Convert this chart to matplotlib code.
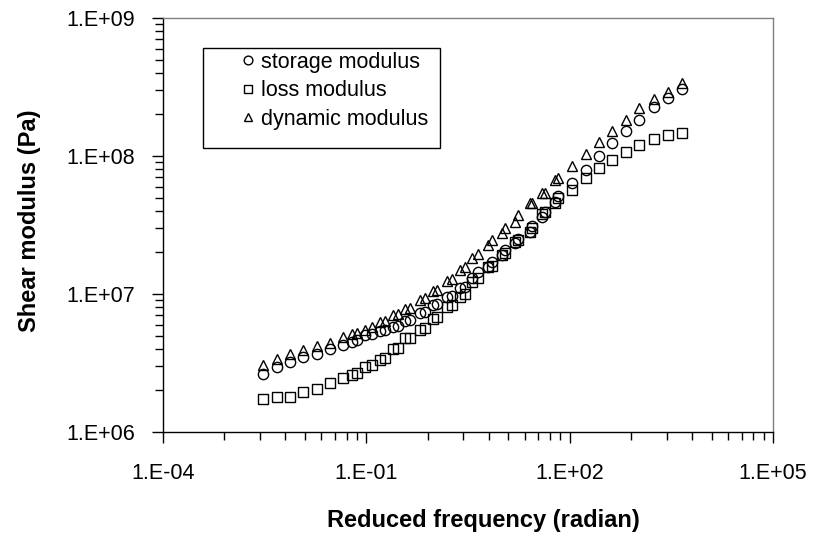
import numpy as np
import matplotlib
matplotlib.use("Agg")
import matplotlib.pyplot as plt
from matplotlib.ticker import FixedLocator, FuncFormatter, NullFormatter
from matplotlib.patches import Rectangle

plt.rcParams['font.family'] = ['Liberation Sans', 'DejaVu Sans']

# reduced frequency (rad) - main set and the overlapping set
freq = [0.00302, 0.00475, 0.00746, 0.0117, 0.0185, 0.0290, 0.0456, 0.0719,
        0.120, 0.188, 0.295, 0.440, 0.731, 1.11, 1.81, 2.85, 4.47, 7.05, 11.1,
        17.4, 27.4, 43.1, 67.6, 110, 173, 272, 424, 674, 1060, 1760, 2840, 4470,
        0.0607, 0.0953, 0.159, 0.249, 0.371, 0.618, 0.970, 1.53, 2.40, 3.57,
        6.28, 9.91, 15.6, 25.9, 38.5, 60.5]

storage = [2.62e6, 2.97e6, 3.23e6, 3.51e6, 3.67e6, 3.97e6, 4.27e6, 4.64e6,
           5.13e6, 5.48e6, 5.86e6, 6.48e6, 7.45e6, 8.47e6, 9.68e6, 1.12e7,
           1.44e7, 1.71e7, 2.08e7, 2.50e7, 3.11e7, 3.93e7, 5.13e7, 6.34e7,
           7.92e7, 1.00e8, 1.24e8, 1.53e8, 1.82e8, 2.28e8, 2.62e8, 3.04e8,
           4.51e6, 5.05e6, 5.42e6, 5.79e6, 6.41e6, 7.25e6, 8.32e6, 9.46e6,
           1.10e7, 1.30e7, 1.58e7, 1.92e7, 2.33e7, 2.83e7, 3.63e7, 4.64e7]

loss = [1.73e6, 1.78e6, 1.78e6, 1.94e6, 2.05e6, 2.25e6, 2.45e6, 2.66e6,
        3.06e6, 3.42e6, 4.04e6, 4.77e6, 5.64e6, 6.78e6, 8.32e6, 1.00e7,
        1.31e7, 1.60e7, 1.98e7, 2.46e7, 3.01e7, 3.93e7, 4.96e7, 5.67e7,
        6.89e7, 8.15e7, 9.35e7, 1.07e8, 1.20e8, 1.32e8, 1.42e8, 1.47e8,
        2.59e6, 2.94e6, 3.32e6, 3.97e6, 4.77e6, 5.48e6, 6.56e6, 8.09e6,
        9.56e6, 1.22e7, 1.57e7, 1.92e7, 2.38e7, 2.83e7, 3.80e7, 4.56e7]

dynamic = [3.06e6, 3.36e6, 3.67e6, 3.93e6, 4.20e6, 4.44e6, 4.88e6, 5.24e6,
           5.79e6, 6.37e6, 7.16e6, 7.88e6, 9.31e6, 1.07e7, 1.28e7, 1.57e7,
           1.95e7, 2.46e7, 3.01e7, 3.74e7, 4.59e7, 5.42e7, 6.89e7, 8.47e7,
           1.03e8, 1.27e8, 1.53e8, 1.82e8, 2.22e8, 2.58e8, 2.92e8, 3.37e8,
           5.13e6, 5.48e6, 6.27e6, 7.04e6, 7.75e6, 9.05e6, 1.06e7, 1.25e7,
           1.49e7, 1.81e7, 2.26e7, 2.75e7, 3.32e7, 4.54e7, 5.37e7, 6.70e7]

x_major = [1e-4, 1e-1, 1e2, 1e5]
y_major = [1e6, 1e7, 1e8, 1e9]

fig = plt.figure(figsize=(8.2, 5.42), dpi=100)
ax = fig.add_axes([163/820, 1-432/542, 610/820, 414/542])

mk = dict(ls='none', mfc='none', mec='black', mew=1.0)
ax.plot(freq, storage, marker='o', ms=7.4, label='storage modulus', **mk)
ax.plot(freq, loss, marker='s', ms=6.6, label='loss modulus', **mk)
ax.plot(freq, dynamic, marker='^', ms=7.4, label='dynamic modulus', **mk)

ax.set_xscale('log')
ax.set_yscale('log')
ax.set_xlim(1e-4, 1e5)
ax.set_ylim(1e6, 1e9)

# excel style ticks: minor marks split every 3-decade step like one decade
fmt = FuncFormatter(lambda v, p: "1.E%+03d" % round(np.log10(v)))
ax.xaxis.set_major_locator(FixedLocator(x_major))
ax.xaxis.set_minor_locator(FixedLocator([b * k**3 for b in x_major[:-1] for k in range(2, 10)]))
ax.yaxis.set_major_locator(FixedLocator(y_major))
ax.yaxis.set_minor_locator(FixedLocator([b * k for b in y_major[:-1] for k in range(2, 10)]))
ax.xaxis.set_major_formatter(fmt)
ax.yaxis.set_major_formatter(fmt)
ax.xaxis.set_minor_formatter(NullFormatter())
ax.yaxis.set_minor_formatter(NullFormatter())

ax.tick_params(which='major', direction='out', length=8, width=1, labelsize=15.5, colors='black')
ax.tick_params(which='minor', direction='out', length=6, width=1)
ax.tick_params(axis='x', pad=14)
ax.tick_params(axis='y', pad=12)
ax.tick_params(top=False, right=False, which='both')

for s in ['left', 'bottom']:
    ax.spines[s].set_color('black')
    ax.spines[s].set_linewidth(1)
for s in ['top', 'right']:
    ax.spines[s].set_color('#808080')
    ax.spines[s].set_linewidth(1)

ax.set_xlabel('Reduced frequency (radian)', fontsize=17, fontweight='bold')
ax.xaxis.set_label_coords(0.525, -0.185)
ax.set_ylabel('Shear modulus (Pa)', fontsize=17, fontweight='bold')
ax.yaxis.set_label_coords(-0.2, 0.51)

leg = ax.legend(loc='upper left', bbox_to_anchor=(0.127, 0.918), frameon=False,
                fontsize=15.5, handlelength=0.7, handletextpad=0.25,
                borderpad=0, borderaxespad=0, labelspacing=0.35, markerscale=0.85)
ax.add_patch(Rectangle((40/610, 284/414), 237/610, 100/414, transform=ax.transAxes,
                       fill=False, edgecolor='black', linewidth=1))

fig.savefig('out.png', dpi=100)
